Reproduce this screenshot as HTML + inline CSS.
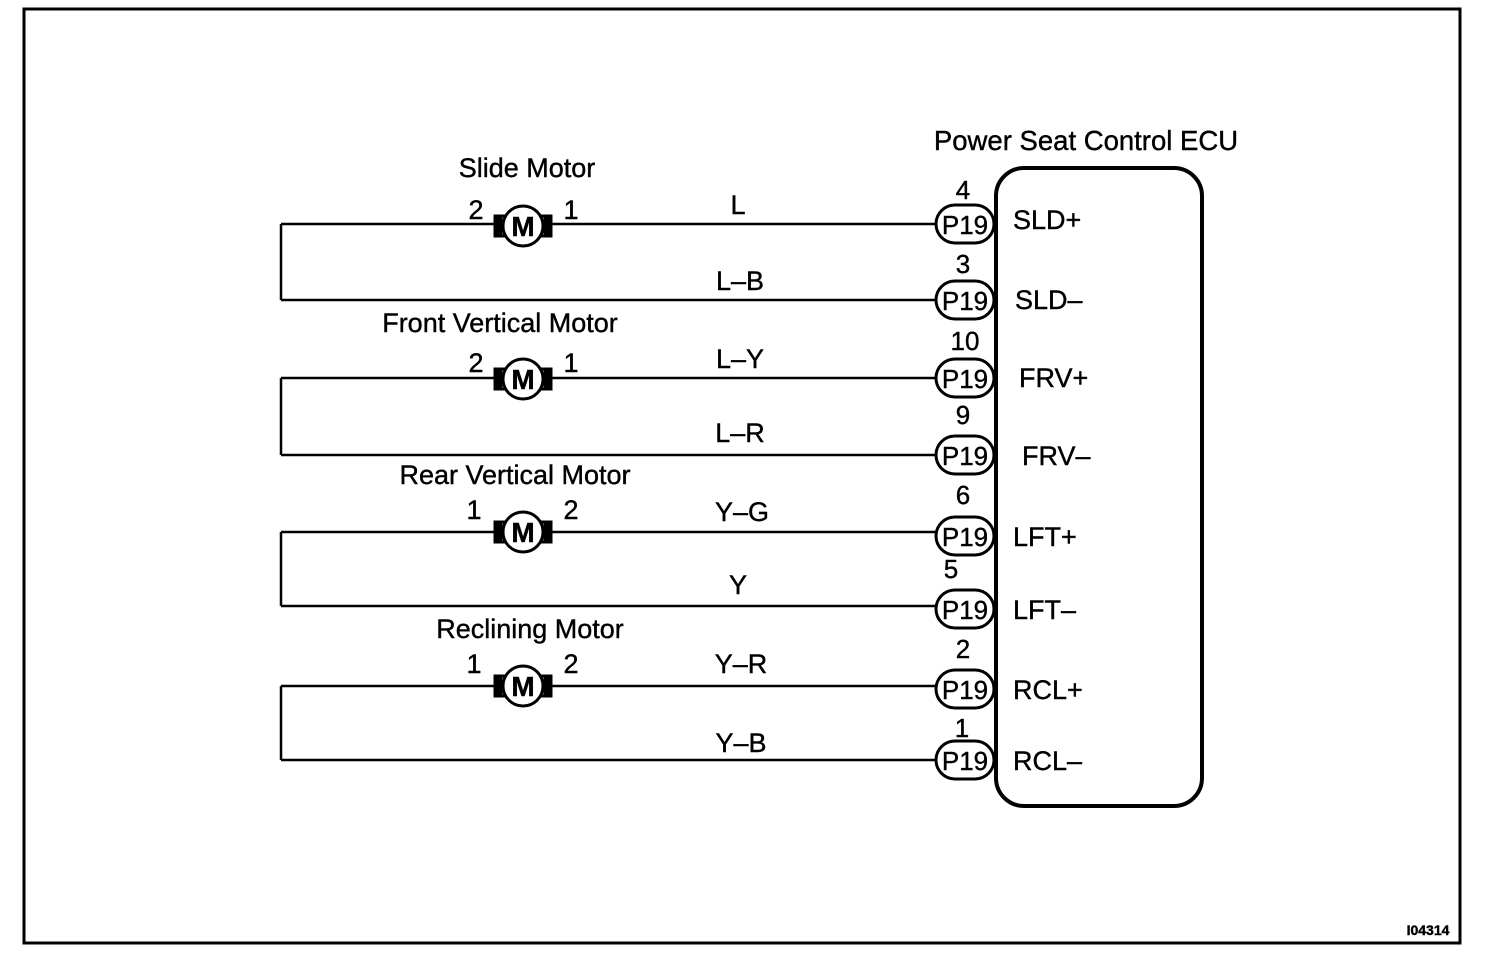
<!DOCTYPE html>
<html><head><style>body{margin:0;background:#fff}svg{display:block}text{font-family:"Liberation Sans",sans-serif;fill:#000;stroke:#000;stroke-width:0.4}</style></head><body>
<svg width="1504" height="972" xmlns="http://www.w3.org/2000/svg">
<rect x="24" y="9" width="1436" height="934" fill="none" stroke="#000" stroke-width="3"/>
<text x="1086" y="150" font-size="27.5" text-anchor="middle">Power Seat Control ECU</text>
<rect x="996" y="168" width="206" height="638" rx="28" fill="none" stroke="#000" stroke-width="4"/>
<g stroke="#000" stroke-width="2.5" fill="none">
<path d="M281 224V300M281 378V455M281 532V606M281 686V760"/>
<path d="M281 224H936M281 300H936M281 378H936M281 455H936M281 532H936M281 606H936M281 686H936M281 760H936"/>
</g>
<g fill="#fff" stroke="#000" stroke-width="3">
<g transform="translate(523,226)"><rect x="-28" y="-10" width="56" height="20" fill="#fff"/><rect x="-28" y="-10" width="6" height="20" fill="#000"/><rect x="22" y="-10" width="6" height="20" fill="#000"/><circle r="20"/><text x="0" y="10" font-size="28" font-weight="bold" text-anchor="middle" stroke="none">M</text></g>
<g transform="translate(523,379)"><rect x="-28" y="-10" width="56" height="20" fill="#fff"/><rect x="-28" y="-10" width="6" height="20" fill="#000"/><rect x="22" y="-10" width="6" height="20" fill="#000"/><circle r="20"/><text x="0" y="10" font-size="28" font-weight="bold" text-anchor="middle" stroke="none">M</text></g>
<g transform="translate(523,532)"><rect x="-28" y="-10" width="56" height="20" fill="#fff"/><rect x="-28" y="-10" width="6" height="20" fill="#000"/><rect x="22" y="-10" width="6" height="20" fill="#000"/><circle r="20"/><text x="0" y="10" font-size="28" font-weight="bold" text-anchor="middle" stroke="none">M</text></g>
<g transform="translate(523,686)"><rect x="-28" y="-10" width="56" height="20" fill="#fff"/><rect x="-28" y="-10" width="6" height="20" fill="#000"/><rect x="22" y="-10" width="6" height="20" fill="#000"/><circle r="20"/><text x="0" y="10" font-size="28" font-weight="bold" text-anchor="middle" stroke="none">M</text></g>
</g>
<g font-size="27">
<text x="527" y="177" text-anchor="middle">Slide Motor</text>
<text x="500" y="332" text-anchor="middle">Front Vertical Motor</text>
<text x="515" y="484" text-anchor="middle">Rear Vertical Motor</text>
<text x="530" y="638" text-anchor="middle">Reclining Motor</text>
<text x="476" y="219" text-anchor="middle">2</text><text x="571" y="219" text-anchor="middle">1</text>
<text x="476" y="372" text-anchor="middle">2</text><text x="571" y="372" text-anchor="middle">1</text>
<text x="474" y="519" text-anchor="middle">1</text><text x="571" y="519" text-anchor="middle">2</text>
<text x="474" y="673" text-anchor="middle">1</text><text x="571" y="673" text-anchor="middle">2</text>
<text x="738" y="214" text-anchor="middle">L</text>
<text x="740" y="290" text-anchor="middle">L–B</text>
<text x="740" y="368" text-anchor="middle">L–Y</text>
<text x="740" y="442" text-anchor="middle">L–R</text>
<text x="742" y="521" text-anchor="middle">Y–G</text>
<text x="738" y="594" text-anchor="middle">Y</text>
<text x="741" y="673" text-anchor="middle">Y–R</text>
<text x="741" y="752" text-anchor="middle">Y–B</text>
</g>
<g stroke="#000" stroke-width="3" fill="#fff">
<rect x="936" y="205" width="58" height="38" rx="19"/>
<rect x="936" y="281" width="58" height="38" rx="19"/>
<rect x="936" y="359" width="58" height="38" rx="19"/>
<rect x="936" y="436" width="58" height="38" rx="19"/>
<rect x="936" y="517" width="58" height="38" rx="19"/>
<rect x="936" y="590" width="58" height="38" rx="19"/>
<rect x="936" y="670" width="58" height="38" rx="19"/>
<rect x="936" y="741" width="58" height="38" rx="19"/>
</g>
<g font-size="26" text-anchor="middle">
<text x="965" y="234">P19</text><text x="965" y="310">P19</text><text x="965" y="388">P19</text><text x="965" y="465">P19</text>
<text x="965" y="546">P19</text><text x="965" y="619">P19</text><text x="965" y="699">P19</text><text x="965" y="770">P19</text>
<text x="963" y="199">4</text><text x="963" y="273">3</text><text x="965" y="350">10</text><text x="963" y="424">9</text>
<text x="963" y="504">6</text><text x="951" y="578">5</text><text x="963" y="658">2</text><text x="962" y="737">1</text>
</g>
<g font-size="27">
<text x="1013" y="229">SLD+</text><text x="1015" y="309">SLD–</text><text x="1019" y="387">FRV+</text><text x="1022" y="465">FRV–</text>
<text x="1013" y="546">LFT+</text><text x="1013" y="619">LFT–</text><text x="1013" y="699">RCL+</text><text x="1013" y="770">RCL–</text>
</g>
<text x="1428" y="935" font-size="14" font-weight="bold" text-anchor="middle">I04314</text>
</svg>
</body></html>
